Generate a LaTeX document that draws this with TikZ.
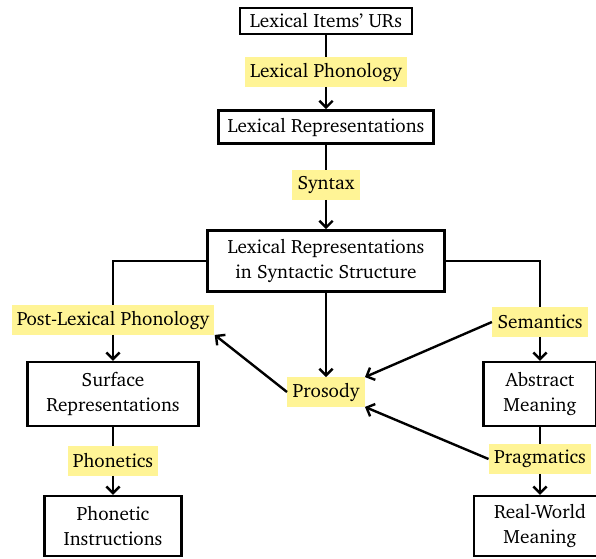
\documentclass[tikz,border=0pt]{standalone}
\usepackage[T1]{fontenc}
\renewcommand{\rmdefault}{bch}
\usepackage{tikz}
\usetikzlibrary{arrows.meta}
\definecolor{hlyellow}{RGB}{255,244,150}
\tikzset{
  level/.style = {rectangle, draw, line width=1.8pt, align=center, inner sep=2pt},
  proc/.style = {rectangle, fill=hlyellow, inner xsep=4pt, minimum height=22pt},
  link/.style = {line width=1.8pt},
  flow/.style = {line width=1.8pt, -{Straight Barb[length=5pt,width=10pt,line width=1.8pt]}}
}

\begin{document}
\begin{tikzpicture}[x=0.75pt, y=-0.75pt, font=\fontsize{14.4}{18.5}\selectfont]
	\useasboundingbox (0,0) rectangle (596,558);

	% Place nodes
	\node [level, minimum width=129pt, minimum height=19.5pt] at (326,21) (urs) {Lexical Items' URs};
	\node [proc] at (326,72) (lexphon) {Lexical Phonology};
	\node [level, minimum width=161pt, minimum height=25pt] at (326,127) (lexrep) {Lexical Representations};
	\node [proc] at (326,185) (syntax) {Syntax};
	\node [level, minimum width=178pt, minimum height=46pt] at (326,261) (synrep) {Lexical Representations\\in Syntactic Structure};

	\node [proc] at (113,320) (postlex) {Post-Lexical Phonology};
	\node [level, minimum width=128pt, minimum height=48pt] at (113,394) (surf) {Surface\\Representations};
	\node [proc] at (113,461) (phonetics) {Phonetics};
	\node [level, minimum width=103pt, minimum height=45pt] at (113,526) (phoninst) {Phonetic\\Instructions};

	\node [proc] at (326,392) (prosody) {Prosody};

	\node [proc] at (540,322) (sem) {Semantics};
	\node [level, minimum width=85pt, minimum height=48pt] at (540,394) (abs) {Abstract\\Meaning};
	\node [proc] at (540,459) (prag) {Pragmatics};
	\node [level, minimum width=99pt, minimum height=45pt] at (540,526) (real) {Real-World\\Meaning};

	% Connectors
	\draw[link](urs)--(lexphon);
	\draw[flow](lexphon)--(lexrep);
	\draw[link](lexrep)--(syntax);
	\draw[flow](syntax)--(synrep);

	\draw[link](synrep.west)-|(postlex);
	\draw[flow](postlex)--(surf);
	\draw[link](surf)--(phonetics);
	\draw[flow](phonetics)--(phoninst);

	\draw[link](synrep.east)-|(sem);
	\draw[flow](sem)--(abs);
	\draw[link](abs)--(prag);
	\draw[flow](prag)--(real);

	\draw[flow](synrep)--(prosody);
	\draw[flow](sem.west)--(prosody.north east);
	\draw[flow](prag.west)--(prosody.south east);
	\draw[flow](prosody.west)--(postlex.south east);
\end{tikzpicture}
\end{document}
